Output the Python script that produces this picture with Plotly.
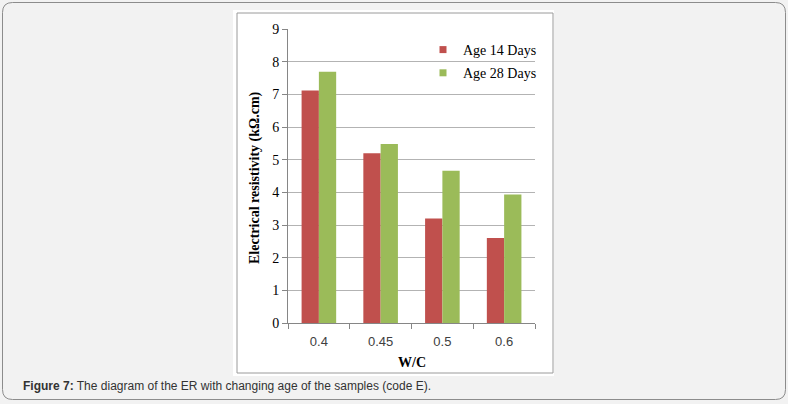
import plotly.graph_objects as go

W, H = 788, 404
categories = ["0.4", "0.45", "0.5", "0.6"]
age14 = [7.12, 5.2, 3.2, 2.6]
age28 = [7.69, 5.48, 4.66, 3.93]
series_names = ["Age 14 Days", "Age 28 Days"]
colors = ["#C0504D", "#9BBB59"]
yticks = [0, 1, 2, 3, 4, 5, 6, 7, 8, 9]

def px(x):
    return x / W

def py(y):
    return 1 - y / H

fig = go.Figure()
for name, vals, col in zip(series_names, [age14, age28], colors):
    fig.add_trace(go.Bar(x=categories, y=vals, name=name, marker_color=col,
                         marker_line_width=0, showlegend=False))
for name, col in zip(series_names, colors):
    fig.add_trace(go.Scatter(x=[None], y=[None], mode="markers", name=name,
                             legendgroup=name,
                             marker=dict(symbol="square", size=7, color=col)))

# outer rounded frame
x0, x1, y0, y1, r = px(2.5), px(785.5), py(2.5), py(399.5), 10
rx, ry = r / W, r / H
path = (f"M{x0+rx},{y0} L{x1-rx},{y0} Q{x1},{y0} {x1},{y0-ry} "
        f"L{x1},{y1+ry} Q{x1},{y1} {x1-rx},{y1} L{x0+rx},{y1} "
        f"Q{x0},{y1} {x0},{y1+ry} L{x0},{y0-ry} Q{x0},{y0} {x0+rx},{y0} Z")
shapes = [
    dict(type="path", xref="paper", yref="paper", path=path,
         fillcolor="#f2f2f2", line=dict(color="#8c8c8c", width=1), layer="below"),
    dict(type="rect", xref="paper", yref="paper", x0=px(233), x1=px(554),
         y0=py(376), y1=py(10), fillcolor="#ffffff", line=dict(width=0), layer="below"),
    dict(type="rect", xref="paper", yref="paper", x0=px(237), x1=px(553),
         y0=py(373), y1=py(13), fillcolor="rgba(0,0,0,0)",
         line=dict(color="#9a9a9a", width=1), layer="below"),
]

annotations = [
    dict(text="<b>Electrical resistivity (kΩ.cm)</b>", textangle=-90,
         xref="paper", yref="paper", x=px(255), y=py(178), showarrow=False,
         xanchor="center", yanchor="middle",
         font=dict(family="Liberation Serif", size=14, color="#000000")),
    dict(text="<b>W/C</b>", xref="paper", yref="paper", x=px(412), y=py(362),
         xanchor="center", yanchor="middle",
         showarrow=False, font=dict(family="Liberation Serif", size=14, color="#000000")),
    dict(text="<b>Figure 7:</b> The diagram of the ER with changing age of the samples (code E).",
         xref="paper", yref="paper", x=px(21), y=py(386), xanchor="left", yanchor="middle",
         showarrow=False, font=dict(family="Liberation Sans", size=12, color="#333333")),
]

fig.update_layout(
    width=W, height=H, margin=dict(l=0, r=0, t=0, b=0, pad=0, autoexpand=False),
    paper_bgcolor="#f2f2f2", plot_bgcolor="#ffffff",
    barmode="group", bargap=0.44, bargroupgap=0,
    shapes=shapes, annotations=annotations,
    legend=dict(x=px(423), y=py(34), xanchor="left", yanchor="top",
                traceorder="grouped", tracegroupgap=2,
                bgcolor="rgba(0,0,0,0)", font=dict(family="Liberation Serif", size=14, color="#000000"),
                itemwidth=30),
    xaxis=dict(domain=[px(288), px(535)], type="category", tickson="boundaries",
               ticks="outside", ticklen=5, tickcolor="#868686", showline=True,
               linecolor="#868686", linewidth=1, showgrid=False, automargin=False,
               ticklabelstandoff=6,
               tickfont=dict(family="Liberation Sans", size=13, color="#404040")),
    yaxis=dict(domain=[py(323), py(29)], range=[0, 9], tickvals=yticks,
               ticks="outside", ticklen=5, tickcolor="#868686", showline=True,
               linecolor="#868686", linewidth=1, showgrid=True, gridcolor="#b3b3b3",
               zeroline=False, automargin=False,
               tickfont=dict(family="Liberation Serif", size=14, color="#000000")),
)
fig.write_html("out.html", config={"displayModeBar": False},
               post_script="document.body.style.margin='0';document.body.style.overflow='hidden';")
